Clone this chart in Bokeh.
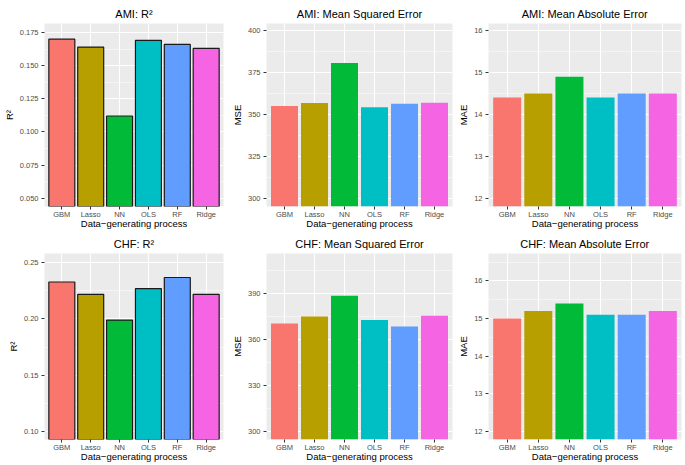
from bokeh.plotting import figure
from bokeh.layouts import gridplot
from bokeh.models import Range1d, FixedTicker
from bokeh.embed import file_html
from bokeh.resources import INLINE

categories = ["GBM", "Lasso", "NN", "OLS", "RF", "Ridge"]
colors = ["#F8766D", "#B79F00", "#00BA38", "#00BFC4", "#619CFF", "#F564E3"]

ami_r2 = [0.170, 0.164, 0.112, 0.169, 0.166, 0.163]
ami_mse = [355.0, 356.8, 380.7, 354.3, 356.4, 356.9]
ami_mae = [14.4, 14.5, 14.9, 14.4, 14.5, 14.5]
chf_r2 = [0.233, 0.222, 0.199, 0.227, 0.237, 0.222]
chf_mse = [370.3, 374.8, 388.5, 372.6, 368.3, 375.3]
chf_mae = [15.0, 15.2, 15.4, 15.1, 15.1, 15.2]

ticks_ami_r2 = [0.050, 0.075, 0.100, 0.125, 0.150, 0.175]
labels_ami_r2 = ["0.050", "0.075", "0.100", "0.125", "0.150", "0.175"]
ticks_ami_mse = [300, 325, 350, 375, 400]
ticks_mae = [12, 13, 14, 15, 16]
ticks_chf_r2 = [0.10, 0.15, 0.20, 0.25]
labels_chf_r2 = ["0.10", "0.15", "0.20", "0.25"]
ticks_chf_mse = [300, 330, 360, 390]

FONT = "Liberation Sans"


def minors(ticks, lo, hi):
    step = ticks[1] - ticks[0]
    out = []
    t = ticks[0] - step / 2
    while t < hi + step:
        if lo <= t <= hi:
            out.append(t)
        t += step
    return out


def panel(title, values, ylabel, yr, ticks, tick_labels, outline, w, h, bl, br, bt, bb):
    p = figure(x_range=categories, y_range=Range1d(*yr), width=w, height=h,
               output_backend="svg", toolbar_location=None,
               min_border_left=bl, min_border_right=br,
               min_border_top=bt, min_border_bottom=bb)
    p.background_fill_color = "#EBEBEB"
    p.border_fill_color = "white"
    p.outline_line_color = None
    p.vbar(x=categories, top=values, bottom=0, width=0.9, fill_color=colors,
           line_color="#1A1A1A" if outline else None,
           line_width=1.2 if outline else 0)
    p.title.text = title
    p.title.align = "center"
    p.title.text_font = FONT
    p.title.text_font_size = "11px"
    p.title.text_font_style = "normal"
    p.title.text_color = "black"
    p.title.standoff = 8
    p.title.offset = 0
    p.yaxis.ticker = FixedTicker(ticks=ticks, minor_ticks=minors(ticks, yr[0], yr[1]))
    if tick_labels is not None:
        p.yaxis.major_label_overrides = {t: l for t, l in zip(ticks, tick_labels)}
    for ax in (p.xaxis[0], p.yaxis[0]):
        ax.axis_line_color = None
        ax.major_tick_line_color = "#333333"
        ax.major_tick_out = 3
        ax.major_tick_in = 0
        ax.minor_tick_line_color = None
        ax.major_label_text_font = FONT
        ax.major_label_text_font_size = "7.5px"
        ax.major_label_text_color = "#4D4D4D"
        ax.axis_label_text_font = FONT
        ax.axis_label_text_font_size = "9.5px"
        ax.axis_label_text_font_style = "normal"
        ax.axis_label_text_color = "black"
    p.xaxis.major_label_standoff = 0
    p.xaxis.axis_label_standoff = -4
    p.yaxis.major_label_standoff = 2
    p.yaxis.axis_label_standoff = 2
    p.xaxis.axis_label = "Data\u2212generating process"
    p.yaxis.axis_label = ylabel
    p.xgrid.grid_line_color = "white"
    p.xgrid.grid_line_width = 1
    p.ygrid.grid_line_color = "white"
    p.ygrid.grid_line_width = 1
    p.ygrid.minor_grid_line_color = "white"
    p.ygrid.minor_grid_line_width = 0.5
    p.x_range.range_padding = 0.1
    p.x_range.range_padding_units = "absolute"
    return p


W1, W2, W3 = 228, 227, 229
H1, H2 = 231, 233

p1 = panel("AMI: R\u00b2", ami_r2, "R\u00b2", (0.0437, 0.1818), ticks_ami_r2, labels_ami_r2, True,
           W1, H1, 41, 5, 23, 24)
p2 = panel("AMI: Mean Squared Error", ami_mse, "MSE", (295.0, 404.3), ticks_ami_mse, None, False,
           W2, H1, 33, 3, 23, 24)
p3 = panel("AMI: Mean Absolute Error", ami_mae, "MAE", (11.8, 16.17), ticks_mae, None, False,
           W3, H1, 31, 3, 23, 24)
p4 = panel("CHF: R\u00b2", chf_r2, "R\u00b2", (0.0925, 0.2584), ticks_chf_r2, labels_chf_r2, True,
           W1, H2, 36, 5, 22, 25)
p5 = panel("CHF: Mean Squared Error", chf_mse, "MSE", (294.6, 416.0), ticks_chf_mse, None, False,
           W2, H2, 33, 3, 22, 25)
p6 = panel("CHF: Mean Absolute Error", chf_mae, "MAE", (11.78, 16.73), ticks_mae, None, False,
           W3, H2, 30, 3, 22, 25)

grid = gridplot([[p1, p2, p3], [p4, p5, p6]], toolbar_location=None)

open("out.html", "w").write(file_html(grid, INLINE))
